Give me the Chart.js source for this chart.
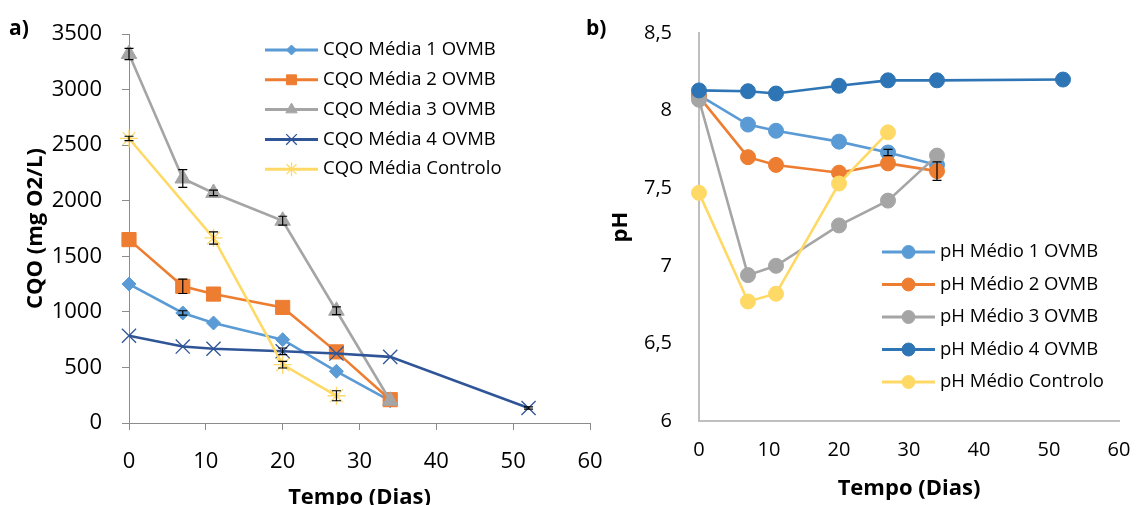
<!DOCTYPE html>
<html><head><meta charset="utf-8">
<script src="https://cdn.jsdelivr.net/npm/chart.js@4.4.1/dist/chart.umd.min.js"></script>
<style>
html,body{margin:0;padding:0;background:#fff;overflow:hidden;width:1142px;height:505px;}
#wrapA{position:absolute;left:0;top:0;width:626px;height:520px;}
#wrapB{position:absolute;left:580px;top:0;width:562px;height:520px;}
.lab{position:absolute;font:bold 21px 'Open Sans',sans-serif;color:#000;line-height:1;}
</style></head><body>
<div id="wrapA"><canvas id="cA" width="626" height="520"></canvas></div>
<div id="wrapB"><canvas id="cB" width="562" height="520"></canvas></div>
<div class="lab" style="left:9px;top:17px">a)</div>
<div class="lab" style="left:586px;top:17px">b)</div>
<script>
// ---------- data ----------
const dayTicks = [0, 10, 20, 30, 40, 50, 60];
const cqoTicks = [0, 500, 1000, 1500, 2000, 2500, 3000, 3500];
const phTicks = [6, 6.5, 7, 7.5, 8, 8.5];

const cqoLabels = ['CQO Média 1 OVMB', 'CQO Média 2 OVMB', 'CQO Média 3 OVMB', 'CQO Média 4 OVMB', 'CQO Média Controlo'];
const cqoDays = [0, 7, 11, 20, 27, 34];
const cqoDays4 = [0, 7, 11, 20, 27, 34, 52];
const cqoDaysCtrl = [0, 11, 20, 27];
const cqo1 = [1250, 990, 900, 750, 465, 200];
const cqo2 = [1650, 1230, 1160, 1040, 640, 210];
const cqo3 = [3320, 2200, 2070, 1820, 1010, 200];
const cqo4 = [785, 688, 668, 645, 625, 595, 135];
const cqoCtrl = [2560, 1665, 525, 245];
const cqoErr1 = [0, 20, 0, 0, 0, 0];
const cqoErr2 = [0, 65, 0, 0, 0, 0];
const cqoErr3 = [50, 80, 25, 40, 35, 0];
const cqoErr4 = [0, 0, 0, 30, 0, 0, 10];
const cqoErrCtrl = [20, 55, 30, 45];

const phLabels = ['pH Médio 1 OVMB', 'pH Médio 2 OVMB', 'pH Médio 3 OVMB', 'pH Médio 4 OVMB', 'pH Médio Controlo'];
const phDays = [0, 7, 11, 20, 27, 34];
const phDays4 = [0, 7, 11, 20, 27, 34, 52];
const phDaysCtrl = [0, 7, 11, 20, 27];
const ph1 = [8.10, 7.91, 7.87, 7.80, 7.73, 7.65];
const ph2 = [8.09, 7.70, 7.65, 7.60, 7.66, 7.61];
const ph3 = [8.07, 6.94, 7.00, 7.26, 7.42, 7.71];
const ph4 = [8.13, 8.125, 8.11, 8.16, 8.195, 8.195, 8.20];
const phCtrl = [7.47, 6.77, 6.82, 7.53, 7.86];
const phErr2 = [0, 0, 0, 0, 0, 0.06];
const phErr1 = [0, 0, 0, 0, 0.02, 0];

// ---------- helpers ----------
const FONT = "'Open Sans', sans-serif";
const xy = (xs, ys) => xs.map((x, i) => ({x: x, y: ys[i]}));
const comma = v => String(v).replace('.', ',');

const errorBarPlugin = {
  id: 'errorBars',
  afterDatasetsDraw(chart) {
    const ctx = chart.ctx, xs = chart.scales.x, ys = chart.scales.y;
    ctx.save();
    ctx.strokeStyle = '#000';
    ctx.lineWidth = 1.2;
    chart.data.datasets.forEach(ds => {
      if (!ds.errors) return;
      ds.data.forEach((p, i) => {
        const e = ds.errors[i];
        if (!e) return;
        const px = xs.getPixelForValue(p.x);
        const y1 = ys.getPixelForValue(p.y + e), y2 = ys.getPixelForValue(p.y - e);
        ctx.beginPath();
        ctx.moveTo(px, y1); ctx.lineTo(px, y2);
        ctx.moveTo(px - 4.5, y1); ctx.lineTo(px + 4.5, y1);
        ctx.moveTo(px - 4.5, y2); ctx.lineTo(px + 4.5, y2);
        ctx.stroke();
      });
    });
    ctx.restore();
  }
};

const legendPlugin = {
  id: 'customLegend',
  afterDraw(chart, args, o) {
    const ctx = chart.ctx;
    ctx.save();
    chart.data.datasets.forEach((ds, i) => {
      const y = o.y + i * o.spacing;
      ctx.strokeStyle = ds.borderColor;
      ctx.lineWidth = 3;
      ctx.beginPath(); ctx.moveTo(o.x0, y); ctx.lineTo(o.x1, y); ctx.stroke();
      ctx.fillStyle = ds.backgroundColor;
      ctx.strokeStyle = ds.borderColor;
      ctx.lineWidth = ds.pointBorderWidth;
      Chart.helpers.drawPoint(ctx, {pointStyle: ds.pointStyle, rotation: 0, radius: ds.legendRadius, borderWidth: ds.pointBorderWidth}, (o.x0 + o.x1) / 2, y);
      ctx.fillStyle = '#000';
      ctx.font = o.font;
      ctx.textBaseline = 'middle';
      ctx.textAlign = 'left';
      ctx.fillText(ds.label, o.tx, y);
    });
    ctx.restore();
  }
};

function mkDs(label, data, color, style, r, lr, pbw, order, errors) {
  return {label, data, borderColor: color, backgroundColor: color, pointBackgroundColor: color,
    pointBorderColor: color, pointStyle: style, pointRadius: r, pointHoverRadius: r,
    legendRadius: lr, pointBorderWidth: pbw, borderWidth: 2.6, tension: 0, fill: false,
    clip: false, order, errors};
}

// visible tick marks (length tl, color tc) plus a blank gap made of an invisible tick
function axisX(opts) {
  return {
    type: 'linear', min: 0, max: 60,
    afterBuildTicks: s => { s.ticks = dayTicks.map(v => ({value: v})); },
    ticks: {padding: opts.pad, maxRotation: 0, autoSkip: false, color: '#000', font: {family: FONT, size: opts.fs}, callback: v => String(v)},
    grid: {display: true, drawOnChartArea: false, drawTicks: true, tickLength: opts.tl, color: opts.col, tickColor: opts.tc, lineWidth: 1},
    border: {display: true, color: opts.col, width: opts.bw},
    title: {display: true, text: 'Tempo (Dias)', color: '#000', font: {family: FONT, size: 22, weight: 'bold'}, padding: {top: 0, bottom: opts.tpb}},
    afterFit: s => { s.height = opts.h; }
  };
}

// ---------- chart a ----------
new Chart(document.getElementById('cA'), {
  type: 'line',
  data: {datasets: [
    mkDs(cqoLabels[0], xy(cqoDays, cqo1), '#5B9BD5', 'rectRot', 7, 5, 1, 5, cqoErr1),
    mkDs(cqoLabels[1], xy(cqoDays, cqo2), '#ED7D31', 'rect', 10, 7, 1, 4, cqoErr2),
    mkDs(cqoLabels[2], xy(cqoDays, cqo3), '#A5A5A5', 'triangle', 9, 6.5, 1, 3, cqoErr3),
    mkDs(cqoLabels[3], xy(cqoDays4, cqo4), '#2F5597', 'crossRot', 10, 7.5, 1.3, 2, cqoErr4),
    mkDs(cqoLabels[4], xy(cqoDaysCtrl, cqoCtrl), '#FFD966', 'star', 9, 7, 1.3, 1, cqoErrCtrl)
  ]},
  options: {
    responsive: false, animation: false, devicePixelRatio: 1,
    layout: {padding: {left: 0, right: 36, top: 34, bottom: 0}},
    plugins: {legend: {display: false}, tooltip: {enabled: false},
      customLegend: {x0: 265, x1: 318, tx: 323, y: 50, spacing: 29.8, font: "18.5px " + FONT}},
    scales: {
      x: axisX({pad: 19, fs: 22, tl: 7, tc: '#8C8C8C', col: '#8C8C8C', bw: 1, tpb: 9, h: 97}),
      y: {
        type: 'linear', min: 0, max: 3500,
        afterBuildTicks: s => { s.ticks = cqoTicks.map(v => ({value: v})); },
        ticks: {padding: 20, color: '#000', font: {family: FONT, size: 22}, callback: v => String(v)},
        grid: {display: true, drawOnChartArea: false, drawTicks: true, tickLength: 7, color: '#8C8C8C', lineWidth: 1},
        border: {display: true, color: '#8C8C8C', width: 1},
        title: {display: true, text: 'CQO (mg O2/L)', color: '#000', font: {family: FONT, size: 22, weight: 'bold'}, padding: {top: 23, bottom: 0}},
        afterFit: s => { s.width = 129; }
      }
    }
  },
  plugins: [errorBarPlugin, legendPlugin]
});

// ---------- chart b ----------
new Chart(document.getElementById('cB'), {
  type: 'line',
  data: {datasets: [
    mkDs(phLabels[0], xy(phDays, ph1), '#5B9BD5', 'circle', 7.5, 6.5, 1, 5, phErr1),
    mkDs(phLabels[1], xy(phDays, ph2), '#ED7D31', 'circle', 7.5, 6.5, 1, 4, phErr2),
    mkDs(phLabels[2], xy(phDays, ph3), '#A5A5A5', 'circle', 7.5, 6.5, 1, 3, null),
    mkDs(phLabels[3], xy(phDays4, ph4), '#2E75B6', 'circle', 7.5, 6.5, 1, 2, null),
    mkDs(phLabels[4], xy(phDaysCtrl, phCtrl), '#FFD966', 'circle', 7.5, 6.5, 1, 1, null)
  ]},
  options: {
    responsive: false, animation: false, devicePixelRatio: 1,
    layout: {padding: {left: 0, right: 23, top: 33, bottom: 0}},
    plugins: {legend: {display: false}, tooltip: {enabled: false},
      customLegend: {x0: 302, x1: 355, tx: 360, y: 252, spacing: 32.5, font: "18.5px " + FONT}},
    scales: {
      x: axisX({pad: 0, fs: 20, tl: 17, tc: 'rgba(0,0,0,0)', col: '#BFBFBF', bw: 2, tpb: 18, h: 99}),
      y: {
        type: 'linear', min: 6, max: 8.5,
        afterBuildTicks: s => { s.ticks = phTicks.map(v => ({value: v})); },
        ticks: {padding: 0, color: '#000', font: {family: FONT, size: 20}, callback: v => comma(v)},
        grid: {display: true, drawOnChartArea: false, drawTicks: true, tickLength: 27, color: '#BFBFBF', tickColor: 'rgba(0,0,0,0)'},
        border: {display: true, color: '#BFBFBF', width: 2},
        title: {display: true, text: 'pH', color: '#000', font: {family: FONT, size: 22, weight: 'bold'}, padding: {top: 28, bottom: 0}},
        afterFit: s => { s.width = 119; }
      }
    }
  },
  plugins: [errorBarPlugin, legendPlugin]
});
</script>
</body></html>
